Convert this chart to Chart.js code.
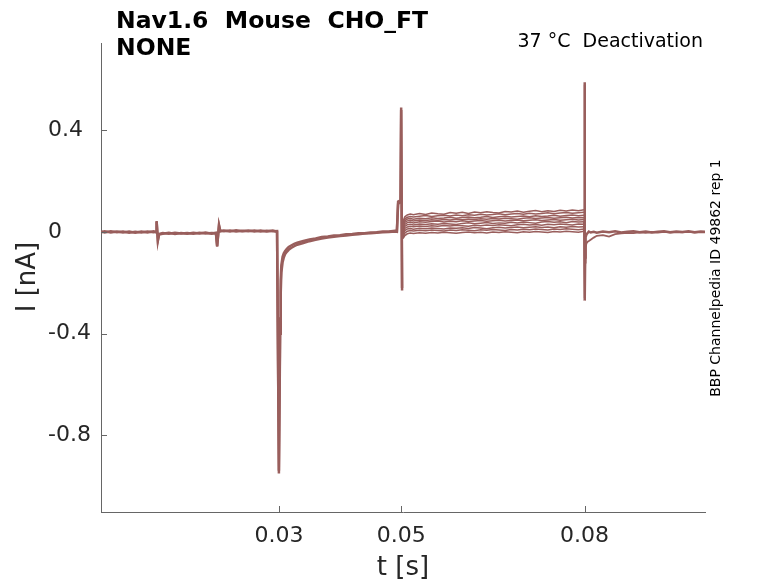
<!DOCTYPE html>
<html>
<head>
<meta charset="utf-8">
<script src="https://cdn.jsdelivr.net/npm/chart.js@4.4.0/dist/chart.umd.min.js"></script>
<style>
    html, body { margin: 0; padding: 0; background: #fff; }
    #wrap { width: 778px; height: 583px; }
</style>
</head>
<body>
<div id="wrap"><canvas id="traceChart" width="778" height="583"></canvas></div>
<script>
// tick labels
const xTicks = [0.03, 0.05, 0.08];
const yTicks = [-0.8, -0.4, 0, 0.4];

// common part before the test step (all sweeps overlap here), t in s, I in nA
const tPre = [0.0009, 0.0015, 0.0025, 0.0035, 0.0045, 0.0055, 0.0065, 0.0075, 0.0085, 0.0095,
    0.0099, 0.0100, 0.0102, 0.0104, 0.011, 0.012, 0.013, 0.014, 0.015, 0.016,
    0.017, 0.018, 0.019, 0.0197, 0.0199, 0.0202, 0.0204, 0.021, 0.022, 0.023,
    0.024, 0.025, 0.026, 0.027, 0.028, 0.029, 0.0297, 0.0300, 0.03015, 0.0302,
    0.0303, 0.0304, 0.0306, 0.0308, 0.031, 0.0313, 0.0316, 0.032, 0.0325, 0.033,
    0.034, 0.035, 0.036, 0.037, 0.038, 0.039, 0.040, 0.041, 0.042, 0.043,
    0.044, 0.045, 0.046, 0.047, 0.048, 0.049, 0.0493, 0.0495, 0.0499, 0.0500,
    0.05015];
const iPreA = [0.002, -0.002, 0.003, -0.001, 0.002, -0.003, 0.001, -0.002, 0.002, -0.001,
    0.001, 0.043, -0.035, -0.008, -0.004, -0.007, -0.003, -0.006, -0.004, -0.007,
    -0.003, -0.006, -0.004, -0.005, -0.058, 0.028, 0.006, 0.003, 0.006, 0.002,
    0.005, 0.003, 0.006, 0.002, 0.005, 0.003, 0.004, -0.95, -0.50, -0.34,
    -0.19, -0.13, -0.098, -0.084, -0.075, -0.066, -0.059, -0.053, -0.047, -0.042,
    -0.035, -0.029, -0.025, -0.020, -0.018, -0.014, -0.013, -0.009, -0.008, -0.005,
    -0.005, -0.002, -0.001, 0.002, 0.002, 0.005, 0.004, 0.12, 0.125, 0.49,
    -0.23];
const iPreB = [-0.001, 0.003, -0.002, 0.002, -0.002, 0.002, -0.003, 0.002, -0.002, 0.003,
    -0.001, 0.040, -0.032, -0.010, -0.007, -0.003, -0.008, -0.004, -0.007, -0.003,
    -0.006, -0.002, -0.007, -0.003, -0.055, 0.025, 0.002, 0.006, 0.002, 0.007,
    0.003, 0.006, 0.002, 0.006, 0.002, 0.006, 0.001, -0.94, -0.55, -0.40,
    -0.24, -0.16, -0.12, -0.10, -0.088, -0.078, -0.070, -0.063, -0.056, -0.050,
    -0.043, -0.036, -0.031, -0.026, -0.022, -0.019, -0.016, -0.014, -0.011, -0.009,
    -0.006, -0.005, -0.003, -0.001, 0.000, 0.002, 0.001, 0.11, 0.12, 0.48,
    -0.22];

// test step, one array per sweep
const tStep = [0.0503, 0.0506, 0.051, 0.0515, 0.052, 0.053, 0.054, 0.055, 0.056, 0.057,
    0.058, 0.059, 0.060, 0.061, 0.062, 0.063, 0.064, 0.065, 0.066, 0.067,
    0.068, 0.069, 0.070, 0.071, 0.072, 0.073, 0.074, 0.075, 0.076, 0.077,
    0.078, 0.079, 0.0799];
const sweep1 = [0.042, 0.060, 0.067, 0.071, 0.068, 0.073, 0.069, 0.075, 0.072, 0.070, 0.077, 0.074, 0.078, 0.073, 0.079, 0.076, 0.080, 0.077, 0.075, 0.081, 0.079, 0.083, 0.078, 0.082, 0.085, 0.080, 0.084, 0.081, 0.086, 0.083, 0.087, 0.084, 0.088];
const sweep2 = [0.035, 0.052, 0.058, 0.061, 0.059, 0.062, 0.065, 0.061, 0.064, 0.066, 0.063, 0.067, 0.064, 0.068, 0.066, 0.070, 0.067, 0.069, 0.072, 0.068, 0.071, 0.073, 0.070, 0.074, 0.071, 0.073, 0.076, 0.072, 0.075, 0.077, 0.074, 0.076, 0.078];
const sweep3 = [0.028, 0.045, 0.051, 0.053, 0.050, 0.054, 0.052, 0.056, 0.053, 0.055, 0.058, 0.054, 0.057, 0.059, 0.056, 0.058, 0.061, 0.057, 0.060, 0.062, 0.059, 0.061, 0.063, 0.060, 0.064, 0.061, 0.063, 0.066, 0.062, 0.065, 0.067, 0.064, 0.066];
const sweep4 = [0.020, 0.038, 0.044, 0.046, 0.043, 0.047, 0.045, 0.048, 0.046, 0.049, 0.047, 0.050, 0.048, 0.051, 0.049, 0.052, 0.050, 0.053, 0.051, 0.054, 0.052, 0.050, 0.054, 0.056, 0.053, 0.055, 0.057, 0.054, 0.056, 0.058, 0.055, 0.057, 0.056];
const sweep5 = [0.012, 0.030, 0.037, 0.039, 0.036, 0.040, 0.038, 0.041, 0.043, 0.039, 0.042, 0.040, 0.044, 0.041, 0.043, 0.045, 0.042, 0.044, 0.046, 0.043, 0.045, 0.047, 0.044, 0.046, 0.048, 0.045, 0.047, 0.049, 0.046, 0.048, 0.050, 0.047, 0.049];
const sweep6 = [0.004, 0.022, 0.029, 0.031, 0.028, 0.032, 0.030, 0.033, 0.031, 0.034, 0.032, 0.030, 0.034, 0.036, 0.033, 0.035, 0.037, 0.034, 0.036, 0.035, 0.038, 0.036, 0.039, 0.037, 0.035, 0.039, 0.041, 0.038, 0.040, 0.037, 0.041, 0.039, 0.040];
const sweep7 = [-0.004, 0.014, 0.020, 0.023, 0.021, 0.024, 0.022, 0.025, 0.023, 0.026, 0.024, 0.027, 0.025, 0.023, 0.027, 0.025, 0.028, 0.026, 0.029, 0.027, 0.025, 0.029, 0.031, 0.028, 0.030, 0.027, 0.031, 0.029, 0.032, 0.030, 0.028, 0.032, 0.031];
const sweep8 = [-0.012, 0.006, 0.012, 0.014, 0.011, 0.015, 0.013, 0.016, 0.014, 0.012, 0.016, 0.015, 0.017, 0.014, 0.018, 0.016, 0.013, 0.017, 0.019, 0.016, 0.018, 0.020, 0.017, 0.019, 0.021, 0.018, 0.020, 0.017, 0.021, 0.019, 0.022, 0.020, 0.021];
const sweep9 = [-0.020, -0.004, 0.003, 0.006, 0.004, 0.007, 0.005, 0.008, 0.006, 0.004, 0.008, 0.006, 0.009, 0.007, 0.005, 0.009, 0.007, 0.010, 0.008, 0.006, 0.010, 0.008, 0.011, 0.009, 0.012, 0.010, 0.008, 0.012, 0.010, 0.013, 0.011, 0.009, 0.012];
const sweep10 = [-0.026, -0.014, -0.007, -0.004, -0.006, -0.003, -0.005, -0.002, -0.004, -0.001, -0.003, -0.005, -0.002, 0.000, -0.003, -0.001, -0.004, 0.000, -0.002, 0.001, -0.001, -0.003, 0.001, -0.001, 0.002, 0.000, -0.002, 0.002, 0.000, 0.003, 0.001, -0.001, 0.003];

// after the step (tail currents)
const tPost = [0.07995, 0.0800, 0.08005, 0.0801, 0.08015, 0.0802, 0.0803, 0.0805, 0.0807, 0.081,
    0.0815, 0.082, 0.083, 0.084, 0.085, 0.086, 0.087, 0.088, 0.089, 0.090,
    0.091, 0.092, 0.093, 0.094, 0.095, 0.096, 0.097, 0.098, 0.099, 0.0997];
const iPostA = [0.045, 0.59, -0.27, -0.10, -0.05, -0.02, -0.01, -0.004, 0.002, -0.002,
    0.001, -0.003, 0.002, -0.001, 0.003, -0.002, 0.001, 0.003, -0.001, 0.002,
    -0.002, 0.001, 0.003, -0.001, 0.002, 0.000, 0.003, -0.001, 0.002, 0.001];
const iPostB = [0.020, 0.58, -0.26, -0.12, -0.08, -0.06, -0.045, -0.038, -0.035, -0.030,
    -0.022, -0.015, -0.012, -0.018, -0.008, -0.005, -0.003, -0.004, -0.001, -0.003,
    0.000, -0.002, 0.001, -0.002, 0.000, -0.001, 0.001, -0.002, 0.000, -0.001];

const traceColor = '#995e5c';
const sweeps = [sweep1, sweep2, sweep3, sweep4, sweep5, sweep6, sweep7, sweep8, sweep9, sweep10];

function toPoints(ts, vals) {
    return ts.map((t, i) => ({ x: t, y: vals[i] }));
}

function traceSet(points, width) {
    return {
        data: points,
        borderColor: traceColor,
        borderWidth: width,
        pointRadius: 0,
        fill: false,
        tension: 0
    };
}

const datasets = [
    traceSet(toPoints(tPre, iPreA), 2.5),
    traceSet(toPoints(tPre, iPreB), 2.5)
];
sweeps.forEach(s => datasets.push(traceSet(toPoints(tStep, s), 1.5)));
datasets.push(traceSet(toPoints(tPost, iPostA), 2.5));
datasets.push(traceSet(toPoints(tPost, iPostB), 1.8));

const axisColor = '#666';
const textColor = '#262626';
const fontFamily = '"DejaVu Sans", sans-serif';

// titles, side texts and inward tick marks
const decorPlugin = {
    id: 'decor',
    afterDraw(chart) {
        const { ctx, chartArea: a } = chart;
        const xs = chart.scales.x;
        const ys = chart.scales.y;
        ctx.save();

        ctx.strokeStyle = axisColor;
        ctx.lineWidth = 1;
        ctx.beginPath();
        xTicks.forEach(v => {
            const px = Math.round(xs.getPixelForValue(v)) + 0.5;
            ctx.moveTo(px, a.bottom);
            ctx.lineTo(px, a.bottom - 6);
        });
        yTicks.forEach(v => {
            const py = Math.round(ys.getPixelForValue(v)) + 0.5;
            ctx.moveTo(a.left, py);
            ctx.lineTo(a.left + 6, py);
        });
        ctx.stroke();

        ctx.fillStyle = '#000';
        ctx.textAlign = 'left';
        ctx.textBaseline = 'alphabetic';
        ctx.font = 'bold 23.5px ' + fontFamily;
        ctx.fillText('Nav1.6  Mouse  CHO_FT', 116, 28);
        ctx.fillText('NONE', 116, 55);

        ctx.font = '19px ' + fontFamily;
        ctx.textAlign = 'right';
        ctx.fillText('37 °C  Deactivation', 703, 47);

        ctx.fillStyle = textColor;
        ctx.font = '26px ' + fontFamily;
        ctx.textAlign = 'center';
        ctx.textBaseline = 'middle';
        ctx.fillText('t [s]', 403, 568);

        ctx.save();
        ctx.translate(28, 277);
        ctx.rotate(-Math.PI / 2);
        ctx.fillText('I [nA]', 0, 0);
        ctx.restore();

        ctx.save();
        ctx.fillStyle = '#000';
        ctx.font = '14px ' + fontFamily;
        ctx.translate(716, 278);
        ctx.rotate(-Math.PI / 2);
        ctx.fillText('BBP Channelpedia ID 49862 rep 1', 0, 0);
        ctx.restore();

        ctx.restore();
    }
};

const ctx = document.getElementById('traceChart').getContext('2d');
const traceChart = new Chart(ctx, {
    type: 'line',
    data: { datasets: datasets },
    options: {
        responsive: false,
        animation: false,
        devicePixelRatio: 1,
        layout: { padding: { left: 48, top: 43, right: 73, bottom: 0 } },
        plugins: {
            legend: { display: false },
            tooltip: { enabled: false },
            title: { display: false }
        },
        scales: {
            x: {
                type: 'linear',
                min: 0.0009,
                max: 0.0997,
                grid: { display: false },
                border: { display: true, color: axisColor, width: 1 },
                ticks: {
                    color: textColor,
                    font: { family: fontFamily, size: 22 },
                    padding: 3,
                    maxRotation: 0,
                    callback: v => String(v)
                },
                afterBuildTicks: s => { s.ticks = xTicks.map(v => ({ value: v })); },
                afterFit: s => { s.height = 71; }
            },
            y: {
                type: 'linear',
                min: -1.102,
                max: 0.744,
                grid: { display: false },
                border: { display: true, color: axisColor, width: 1 },
                ticks: {
                    color: textColor,
                    font: { family: fontFamily, size: 22 },
                    crossAlign: 'far',
                    padding: 4,
                    callback: v => String(v)
                },
                afterBuildTicks: s => { s.ticks = yTicks.map(v => ({ value: v })); },
                afterFit: s => { s.width = 53; }
            }
        }
    },
    plugins: [decorPlugin]
});
</script>
</body>
</html>
